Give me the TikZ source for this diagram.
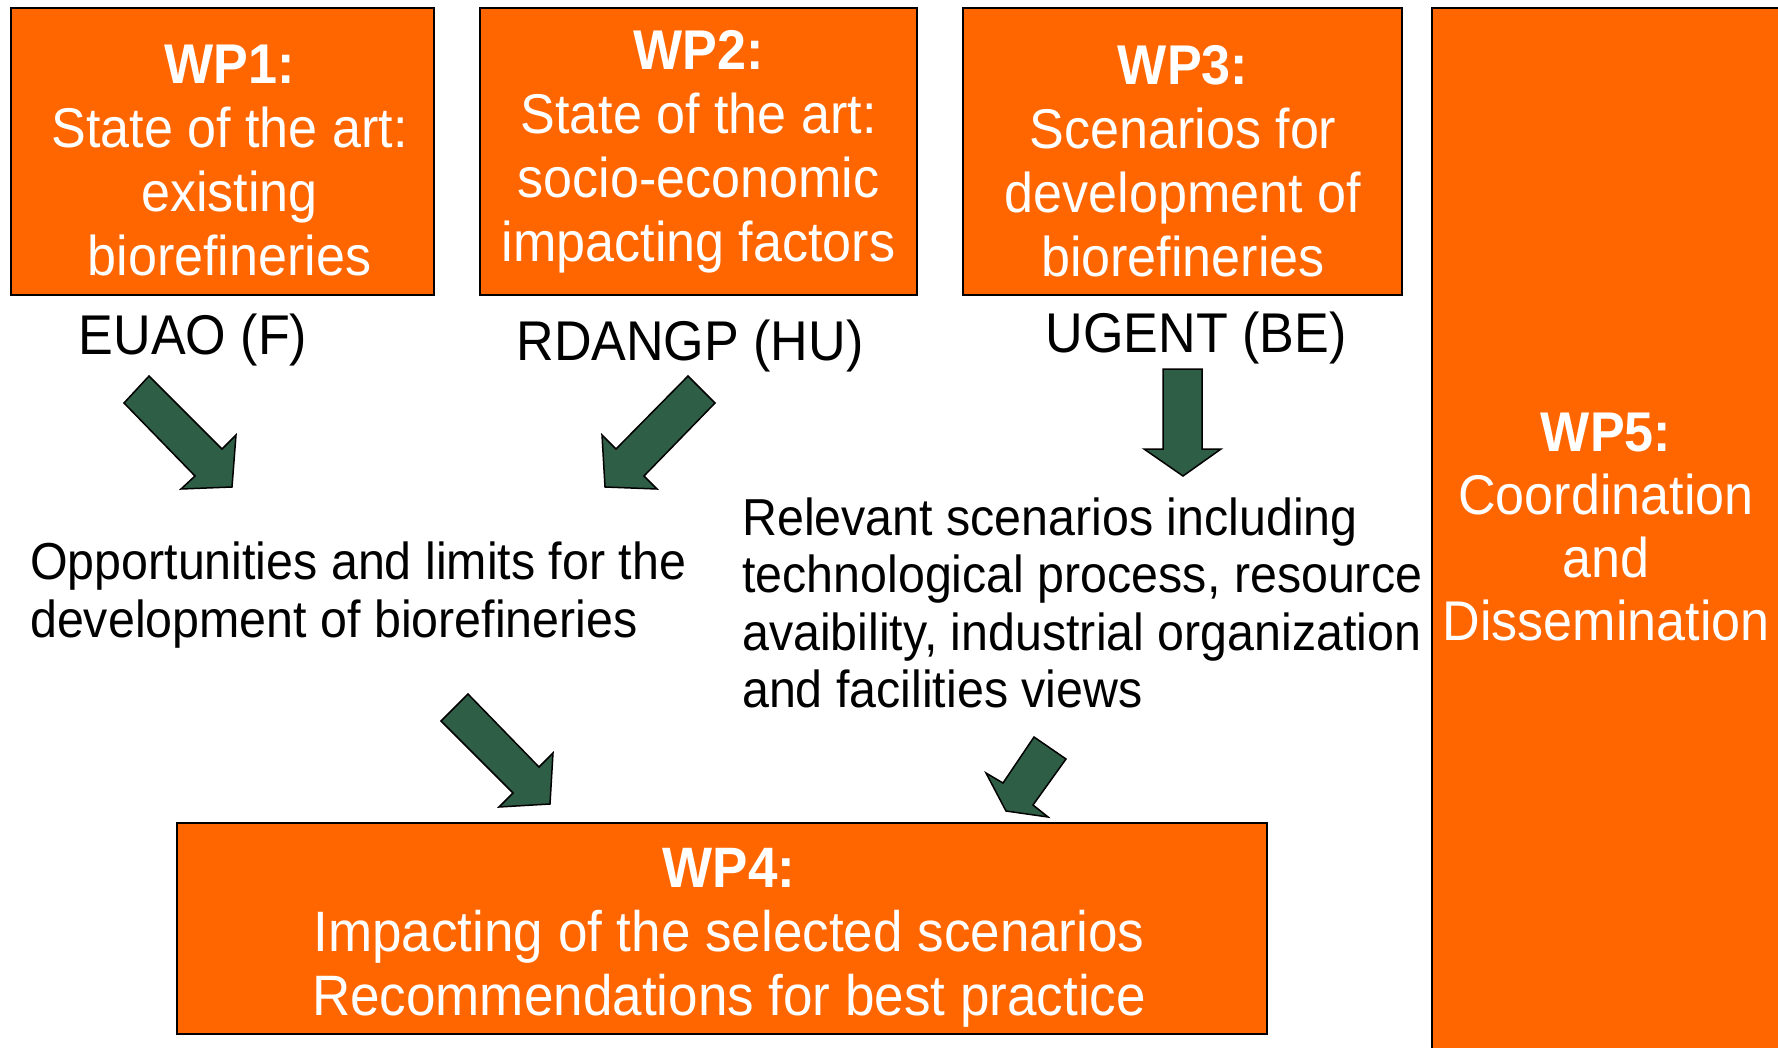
\documentclass[tikz,border=0pt]{standalone}
\usepackage{fontspec}
\newfontfamily\wpfont[FakeStretch=0.93]{Liberation Sans}
\definecolor{wporange}{RGB}{255,102,0}
\definecolor{arrowgreen}{RGB}{47,94,70}
\tikzset{
    wpbox/.style={draw=black, line width=1.5pt, fill=wporange, inner sep=0pt},
    wptext/.style={text=white, align=center, inner sep=0pt,
        font=\wpfont\fontsize{56}{64}\selectfont},
    partner/.style={inner sep=0pt, font=\wpfont\fontsize{56}{64}\selectfont},
    outcome/.style={align=left, anchor=west, inner sep=0pt,
        font=\wpfont\fontsize{52}{57.5}\selectfont},
    blockarrow/.style={draw=black, line width=1.5pt, fill=arrowgreen, line join=miter}
}
\begin{document}
\begin{tikzpicture}[x=1pt, y=-1pt]
            \useasboundingbox (0,0) rectangle (1778,1047);
            \clip (0,0) rectangle (1778,1047);
            % work packages
            \node[wpbox, minimum width=423pt, minimum height=287pt] (wp1) at (222.5,151.5) {};
            \node[wptext] (wp1text) at (229.5,160.5)
                {\textbf{WP1:}\\ State of the art:\\ existing\\ biorefineries};
            \node[wpbox, minimum width=437pt, minimum height=287pt] (wp2) at (698.5,151.5) {};
            \node[wptext] (wp2text) at (698.5,151.5)
                {\textbf{WP2:}\\ State of the art:\\ socio-economic\\ impacting factors};
            \node[wpbox, minimum width=439pt, minimum height=287pt] (wp3) at (1182.5,151.5) {};
            \node[wptext] (wp3text) at (1183,161.5)
                {\textbf{WP3:}\\ Scenarios for\\ development of\\ biorefineries};
            \node[wpbox, minimum width=1090pt, minimum height=211pt] (wp4) at (722,928.5) {};
            \node[wptext, font=\wpfont\fontsize{57}{64}\selectfont] (wp4text) at (729,937.5)
                {\textbf{WP4:}\\ Impacting of the selected scenarios\\ Recommendations for best practice};
            \node[wpbox, minimum width=350pt, minimum height=1052pt] (wp5) at (1607,534) {};
            \node[wptext, font=\wpfont\fontsize{56}{63}\selectfont] (wp5text) at (1606,527)
                {\textbf{WP5:}\\ Coordination\\ and\\ Dissemination};
            % partners
            \node[partner] (euao) at (193,340) {EUAO (F)};
            \node[partner] (rdangp) at (690,346) {RDANGP (HU)};
            \node[partner] (ugent) at (1196,338) {UGENT (BE)};
            % outcomes
            \node[outcome] (limits) at (30,595)
                {Opportunities and limits for the\\ development of biorefineries};
            \node[outcome] (scenarios) at (742,603)
                {Relevant scenarios including\\ technological process, resource\\
                avaibility, industrial organization\\ and facilities views};
            % block arrows
            \draw[blockarrow] (149,376) -- (222,449) -- (236,435) -- (232,487)
                -- (181,489) -- (195,476) -- (124,403) -- cycle;
            \draw[blockarrow] (688,376) -- (715,403) -- (644,476) -- (657,489)
                -- (605,487) -- (602,435) -- (616,449) -- cycle;
            \draw[blockarrow] (1163,369) -- (1202,369) -- (1202,449) -- (1221,449)
                -- (1183,476) -- (1144,449) -- (1163,449) -- cycle;
            \draw[blockarrow] (468,694) -- (539,767) -- (553,753) -- (550,804)
                -- (499,807) -- (513,793) -- (441,721) -- cycle;
            \draw[blockarrow] (1034,737) -- (1066,759) -- (1033,805) -- (1048,817)
                -- (1006,811) -- (986,773) -- (1003,783) -- cycle;
        \end{tikzpicture}
\end{document}
